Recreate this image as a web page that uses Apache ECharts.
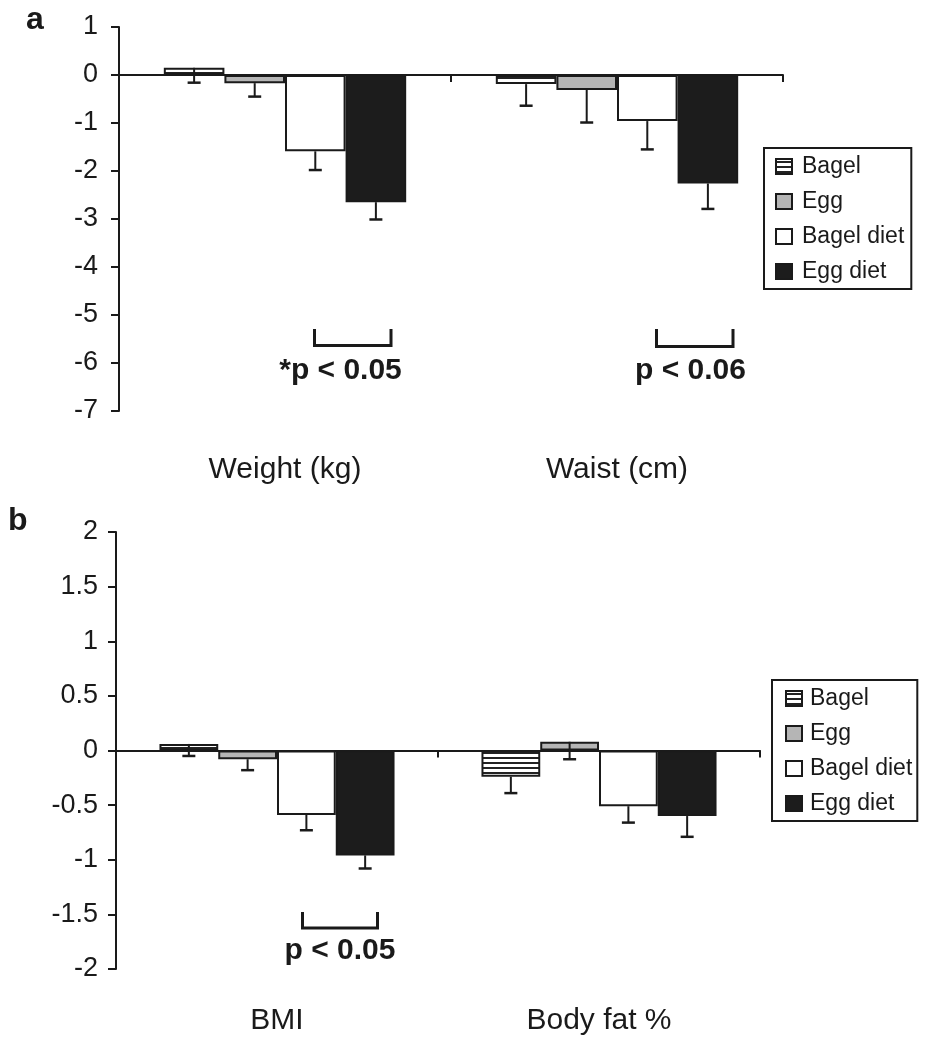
<!DOCTYPE html>
<html><head><meta charset="utf-8">
<script src="https://cdn.jsdelivr.net/npm/echarts@6/dist/echarts.min.js"></script>
<style>html,body{margin:0;padding:0;background:#fff}#c{width:930px;height:1050px}</style>
</head><body><div id="c"></div>
<script>
// ---------- data ----------
const seriesNames = ['Bagel', 'Egg', 'Bagel diet', 'Egg diet'];
const catsA = ['Weight (kg)', 'Waist (cm)'];
const catsB = ['BMI', 'Body fat %'];
const ticksA = { min: -7, max: 1, interval: 1 };
const ticksB = { min: -2, max: 2, interval: 0.5 };

// Panel a: change values
const bagelA = [0.15, -0.19];
const eggA = [-0.17, -0.31];
const bagelDietA = [-1.59, -0.96];
const eggDietA = [-2.65, -2.26];
// Panel a: error (SE) magnitudes, drawn downward
const bagelAErr = [0.31, 0.45];
const eggAErr = [0.28, 0.68];
const bagelDietAErr = [0.39, 0.59];
const eggDietAErr = [0.36, 0.53];

// Panel b: change values
const bagelB = [0.06, -0.24];
const eggB = [-0.08, 0.08];
const bagelDietB = [-0.59, -0.51];
const eggDietB = [-0.96, -0.60];
// Panel b: error magnitudes
const bagelBErr = [0.11, 0.15];
const eggBErr = [0.10, 0.16];
const bagelDietBErr = [0.14, 0.15];
const eggDietBErr = [0.12, 0.19];

// ---------- styles ----------
const INK = '#1a1a1a';
const FONT = '"Liberation Sans", Arial, Helvetica, sans-serif';
const GAP = 0.27;

function hatch() {
  const c = document.createElement('canvas');
  c.width = 8; c.height = 5;
  const g = c.getContext('2d');
  g.fillStyle = '#fff'; g.fillRect(0, 0, 8, 5);
  g.fillStyle = '#222'; g.fillRect(0, 2, 8, 2);
  return c;
}
const hatchPattern = { image: hatch(), repeat: 'repeat' };
const fills = [hatchPattern, '#b5b5b5', '#ffffff', '#1c1c1c'];

const valsA = [bagelA, eggA, bagelDietA, eggDietA];
const errsA = [bagelAErr, eggAErr, bagelDietAErr, eggDietAErr];
const valsB = [bagelB, eggB, bagelDietB, eggDietB];
const errsB = [bagelBErr, eggBErr, bagelDietBErr, eggDietBErr];

function errRender(idx) {
  return function (params, api) {
    const x = api.value(0), v = api.value(1), e = api.value(2);
    const p0 = api.coord([x, v]);
    const p1 = api.coord([x, v - e]);
    const catW = api.size([1, 0])[0];
    const bw = catW * (1 - GAP) / 4;
    const cx = p0[0] + (idx - 1.5) * bw;
    return {
      type: 'group', children: [
        { type: 'line', shape: { x1: cx, y1: p0[1], x2: cx, y2: p1[1] }, style: { stroke: INK, lineWidth: 2 } },
        { type: 'line', shape: { x1: cx - 6.5, y1: p1[1], x2: cx + 6.5, y2: p1[1] }, style: { stroke: INK, lineWidth: 2.5 } }
      ]
    };
  };
}

function buildSeries(vals, errs, axisIdx) {
  const out = [];
  vals.forEach((arr, i) => {
    out.push({
      name: seriesNames[i], type: 'bar',
      xAxisIndex: axisIdx, yAxisIndex: axisIdx,
      data: arr, barGap: '0%', barCategoryGap: (GAP * 100) + '%',
      itemStyle: { color: fills[i], borderColor: INK, borderWidth: 2 },
      emphasis: { disabled: true }, animation: false, z: 2
    });
  });
  errs.forEach((arr, i) => {
    out.push({
      name: 'err-' + axisIdx + '-' + i, type: 'custom',
      xAxisIndex: axisIdx, yAxisIndex: axisIdx,
      data: arr.map((e, k) => [k, vals[i][k], e]),
      renderItem: errRender(i), z: 5, silent: true, animation: false
    });
  });
  return out;
}

function catAxis(gridIndex, cats) {
  return {
    type: 'category', gridIndex, data: cats,
    axisLine: { onZero: true, lineStyle: { color: INK, width: 2 } },
    axisTick: { show: true, length: 7, lineStyle: { color: INK, width: 2 } },
    axisLabel: { show: false }, splitLine: { show: false }
  };
}
function labelAxis(gridIndex, cats, margin) {
  return {
    type: 'category', gridIndex, data: cats, position: 'bottom',
    axisLine: { show: false, onZero: false }, axisTick: { show: false },
    axisLabel: { show: true, margin, fontSize: 30, color: INK, fontFamily: FONT },
    splitLine: { show: false }
  };
}
function valAxis(gridIndex, t, margin) {
  return {
    type: 'value', gridIndex, min: t.min, max: t.max, interval: t.interval,
    axisLine: { show: true, lineStyle: { color: INK, width: 2 } },
    axisTick: { show: true, length: 8, lineStyle: { color: INK, width: 2 } },
    axisLabel: { fontSize: 27, color: INK, fontFamily: FONT, margin },
    splitLine: { show: false }
  };
}

function legendAt(left, top, pad, textGap) {
  return {
    data: seriesNames, orient: 'vertical', left, top,
    itemWidth: 16, itemHeight: 15, itemGap: 12,
    borderColor: INK, borderWidth: 2, padding: pad,
    selectedMode: false, icon: 'rect',
    textStyle: { fontSize: 23, lineHeight: 23, color: INK, fontFamily: FONT, padding: [0, 0, 0, textGap] }
  };
}

function bracket(x1, x2, yTop, yBot) {
  return {
    type: 'polyline',
    shape: { points: [[x1, yTop], [x1, yBot], [x2, yBot], [x2, yTop]] },
    style: { stroke: INK, lineWidth: 3, fill: null }
  };
}
function ptext(cx, cy, txt) {
  return {
    type: 'text', x: cx, y: cy,
    style: { text: txt, font: 'bold 30px ' + FONT, fill: INK, align: 'center', verticalAlign: 'middle' }
  };
}

const chart = echarts.init(document.getElementById('c'), null, { renderer: 'canvas' });
chart.setOption({
  animation: false,
  textStyle: { fontFamily: FONT },
  grid: [
    { left: 119, top: 27, width: 664, height: 384 },
    { left: 116, top: 532, width: 644, height: 437 }
  ],
  xAxis: [catAxis(0, catsA), catAxis(1, catsB), labelAxis(0, catsA, 44), labelAxis(1, catsB, 37)],
  yAxis: [valAxis(0, ticksA, 21), valAxis(1, ticksB, 18)],
  legend: [legendAt(764, 148, [7, 7, 6, 11], 5), legendAt(772, 680, [7, 5, 6, 13], 3)],
  series: buildSeries(valsA, errsA, 0).concat(buildSeries(valsB, errsB, 1)),
  graphic: [
    { type: 'text', x: 26, y: 4, style: { text: 'a', font: 'bold 32px ' + FONT, fill: INK } },
    { type: 'text', x: 8, y: 505, style: { text: 'b', font: 'bold 32px ' + FONT, fill: INK } },
    bracket(314.5, 391, 329, 345.5), ptext(340.5, 371, '*p < 0.05'),
    bracket(656.5, 733, 329, 346.5), ptext(690.5, 371, 'p < 0.06'),
    bracket(302.5, 377.5, 912, 928), ptext(340, 950.5, 'p < 0.05')
  ]
});
</script></body></html>
